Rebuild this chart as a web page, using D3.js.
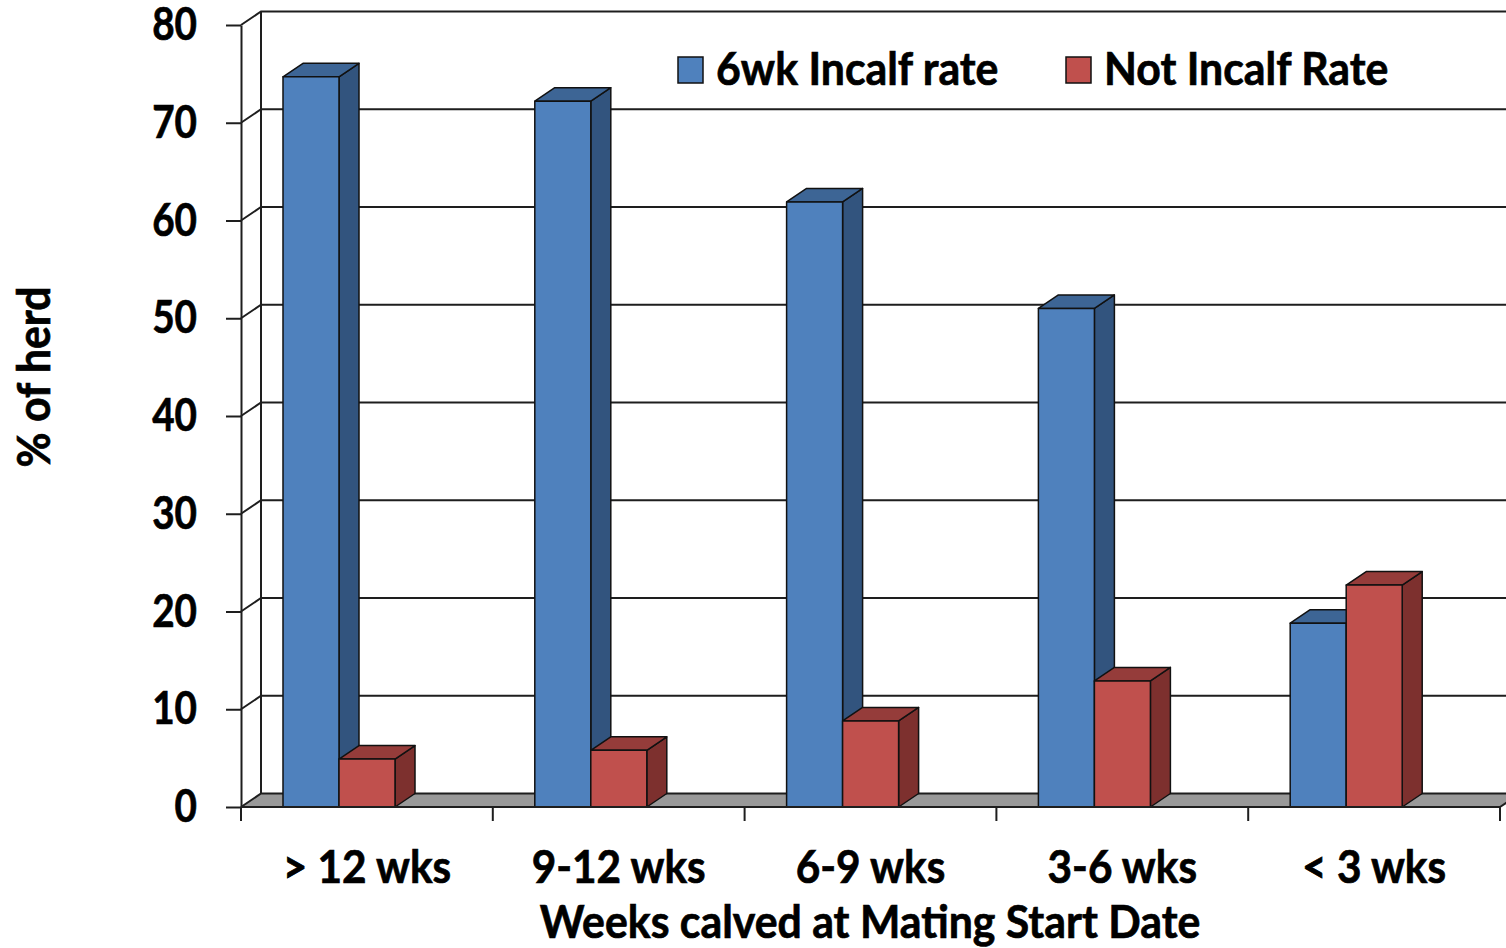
<!DOCTYPE html>
<head>
    <meta charset="utf-8">
    <script src="https://cdn.jsdelivr.net/npm/d3@7/dist/d3.min.js"></script>
    <style>
        body { margin: 0; background: #fff; }
        text { font-family: Lato, "Open Sans", sans-serif; font-weight: bold; fill: #000; stroke: #000; stroke-width: 0.7px; }
    </style>
</head>
<body>
    <div id="chart"></div>
    <script>
        // data
        const categories = ["> 12 wks", "9-12 wks", "6-9 wks", "3-6 wks", "< 3 wks"];
        const seriesNames = ["6wk Incalf rate", "Not Incalf Rate"];
        const incalf = [74.7, 72.2, 61.9, 51.0, 18.8];
        const notIncalf = [4.9, 5.8, 8.8, 12.9, 22.7];
        const yTicks = [0, 10, 20, 30, 40, 50, 60, 70, 80];

        const width = 1506, height = 948;
        const dx = 20, dy = 13.5; // 3d depth offset
        const fontSize = 46;

        // face, top, side colours per series
        const colours = [
            { face: "#4f81bd", top: "#3d6595", side: "#32547e" },
            { face: "#c0504d", top: "#953c3a", side: "#7d302e" }
        ];

        // the original font is narrow, so squeeze the text horizontally
        function squeeze(sel, k) {
            sel.each(function () {
                const len = this.getComputedTextLength();
                d3.select(this)
                    .attr("textLength", len * k)
                    .attr("lengthAdjust", "spacingAndGlyphs");
            });
        }

        const svg = d3.select("#chart").append("svg")
            .attr("width", width)
            .attr("height", height);

        const x = d3.scaleBand()
            .domain(categories)
            .range([241, 1500]);

        const xs = d3.scaleBand()
            .domain([0, 1])
            .range([42, 154]);

        const y = d3.scaleLinear()
            .domain([0, 80])
            .range([807, 25]);

        const xEnd = 1500;

        // floor
        svg.append("path")
            .attr("d", `M${x.range()[0]},${y(0)} L${x.range()[0] + dx},${y(0) - dy} L${xEnd + dx},${y(0) - dy} L${xEnd},${y(0)} Z`)
            .attr("fill", "#999")
            .attr("stroke", "none");

        // walls: diagonal + back gridlines
        const grid = svg.append("g")
            .attr("stroke", "#1e1e1e")
            .attr("stroke-width", 2)
            .attr("fill", "none");

        grid.selectAll("path.grid")
            .data(yTicks)
            .join("path")
            .attr("class", "grid")
            .attr("d", d => `M${x.range()[0]},${y(d)} L${x.range()[0] + dx},${y(d) - dy} L${xEnd + dx + 10},${y(d) - dy}`);

        grid.append("line")
            .attr("x1", x.range()[0] + dx).attr("x2", x.range()[0] + dx)
            .attr("y1", y(80) - dy).attr("y2", y(0) - dy);

        // floor right end
        grid.append("line")
            .attr("x1", xEnd).attr("y1", y(0))
            .attr("x2", xEnd + dx).attr("y2", y(0) - dy);

        // bars
        const data = [incalf, notIncalf];
        const bars = svg.append("g");
        categories.forEach(function (c, i) {
            [0, 1].forEach(function (s) {
                const v = data[s][i];
                const x0 = x(c) + xs(s), w = xs.bandwidth();
                const yt = y(v), yb = y(0);
                const g = bars.append("g")
                    .attr("stroke", "#111")
                    .attr("stroke-width", 1.5)
                    .attr("stroke-linejoin", "round");
                g.append("path")
                    .attr("d", `M${x0 + w},${yt} L${x0 + w + dx},${yt - dy} L${x0 + w + dx},${yb - dy} L${x0 + w},${yb} Z`)
                    .attr("fill", colours[s].side);
                g.append("path")
                    .attr("d", `M${x0},${yt} L${x0 + dx},${yt - dy} L${x0 + w + dx},${yt - dy} L${x0 + w},${yt} Z`)
                    .attr("fill", colours[s].top);
                g.append("rect")
                    .attr("x", x0).attr("y", yt)
                    .attr("width", w).attr("height", yb - yt)
                    .attr("fill", colours[s].face);
            });
        });

        // y axis
        const yAxis = svg.append("g")
            .attr("transform", `translate(${x.range()[0]},0)`)
            .call(d3.axisLeft(y).tickValues(yTicks).tickSize(15).tickSizeOuter(0).tickPadding(29));
        yAxis.selectAll("line, path").attr("stroke", "#1e1e1e").attr("stroke-width", 2);
        yAxis.selectAll("text").attr("font-size", fontSize).style("font-family", null);

        // x axis
        const xAxis = svg.append("g")
            .attr("transform", `translate(0,${y(0)})`)
            .call(d3.axisBottom(x).tickSize(0).tickSizeOuter(0).tickPadding(43));
        xAxis.select(".domain").remove();
        xAxis.selectAll("text").attr("font-size", fontSize).style("font-family", null);

        svg.append("line")
            .attr("x1", x.range()[0]).attr("x2", xEnd)
            .attr("y1", y(0)).attr("y2", y(0))
            .attr("stroke", "#1e1e1e").attr("stroke-width", 2);

        svg.append("g")
            .selectAll("line")
            .data(categories.map(c => x(c)).concat([xEnd]))
            .join("line")
            .attr("x1", d => d).attr("x2", d => d)
            .attr("y1", y(0)).attr("y2", y(0) + 14)
            .attr("stroke", "#1e1e1e").attr("stroke-width", 2);

        // axis titles
        svg.append("text")
            .attr("class", "title")
            .attr("transform", "translate(50,377) rotate(-90)")
            .attr("text-anchor", "middle")
            .attr("font-size", fontSize)
            .text("% of herd");

        svg.append("text")
            .attr("class", "title")
            .attr("x", 870).attr("y", 938)
            .attr("text-anchor", "middle")
            .attr("font-size", fontSize)
            .text("Weeks calved at Mating Start Date");

        // legend
        const legendX = [678, 1066];
        const legend = svg.append("g");
        seriesNames.forEach(function (n, s) {
            legend.append("rect")
                .attr("x", legendX[s]).attr("y", 57)
                .attr("width", 25).attr("height", 26)
                .attr("fill", colours[s].face)
                .attr("stroke", "#111").attr("stroke-width", 1.5);
            legend.append("text")
                .attr("x", legendX[s] + 38).attr("y", 85)
                .attr("font-size", fontSize)
                .text(n);
        });

        squeeze(yAxis.selectAll("text"), 0.84);
        squeeze(xAxis.selectAll("text"), 0.92);
        squeeze(legend.selectAll("text"), 0.93);
        squeeze(svg.selectAll("text.title"), 0.93);
    </script>
</body>
